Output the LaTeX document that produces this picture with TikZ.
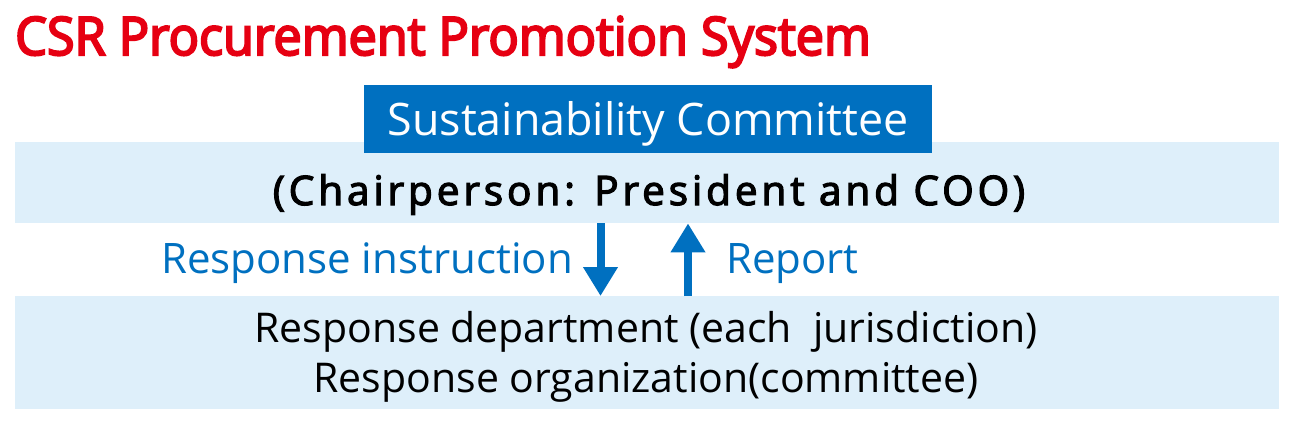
\documentclass[tikz,border=0pt]{standalone}
\usepackage{fontspec}
\setmainfont{Open Sans}
\newfontfamily\titlefont{Open Sans}[FakeStretch=0.95,FakeBold=4]
\newfontfamily\chairfont{Open Sans}[LetterSpace=9.5,FakeBold=3]
\usetikzlibrary{arrows.meta}
\definecolor{csrred}{RGB}{230,0,18}
\definecolor{sbblue}{RGB}{0,112,192}
\definecolor{bandblue}{RGB}{222,239,250}
\begin{document}
\begin{tikzpicture}[x=1pt,y=-1pt]
\tikzstyle{band} = [fill=bandblue, inner sep=0pt, anchor=north west, minimum width=1264pt]
\tikzstyle{committee} = [fill=sbblue, text=white, inner sep=0pt, minimum width=568pt, minimum height=68pt, font=\fontsize{44.8}{50}\selectfont, text height=32pt, text depth=0pt]
\tikzstyle{flowlabel} = [text=sbblue, inner sep=0pt, font=\fontsize{42}{48}\selectfont]
\tikzstyle{bodytext} = [inner sep=0pt, anchor=base, font=\fontsize{41}{48}\selectfont]
\tikzstyle{flow} = [draw=sbblue, line width=8pt, -{Triangle[width=33pt,length=29pt]}]
\useasboundingbox (0,0) rectangle (1300,428);
\node[anchor=base west, inner sep=0pt, text=csrred, font=\titlefont\fontsize{53}{60}\selectfont] (title) at (15,55) {CSR Procurement Promotion System};
\node[band, minimum height=81pt] (chairband) at (15,142) {};
\node[band, minimum height=113pt] (deptband) at (15,296) {};
\node[committee, anchor=north west] (committee) at (364,85) {Sustainability Committee};
\node[bodytext, font=\chairfont\fontsize{40.6}{48}\selectfont] (chair) at (649,205) {(Chairperson: President and COO)};
\coordinate (downx) at (600.5,0);
\coordinate (upx) at (688,0);
\draw[flow] (chairband.south -| downx) -- (deptband.north -| downx);
\draw[flow] (deptband.north -| upx) -- (chairband.south -| upx);
\node[flowlabel, anchor=base east] (instruction) at (573,273) {Response instruction};
\node[flowlabel, anchor=base west] (report) at (726,273) {Report};
\node[bodytext] (dept) at (646,342) {Response department (each\ \ jurisdiction)};
\node[bodytext] (org) at (646,392) {Response organization(committee)};
\end{tikzpicture}
\end{document}
